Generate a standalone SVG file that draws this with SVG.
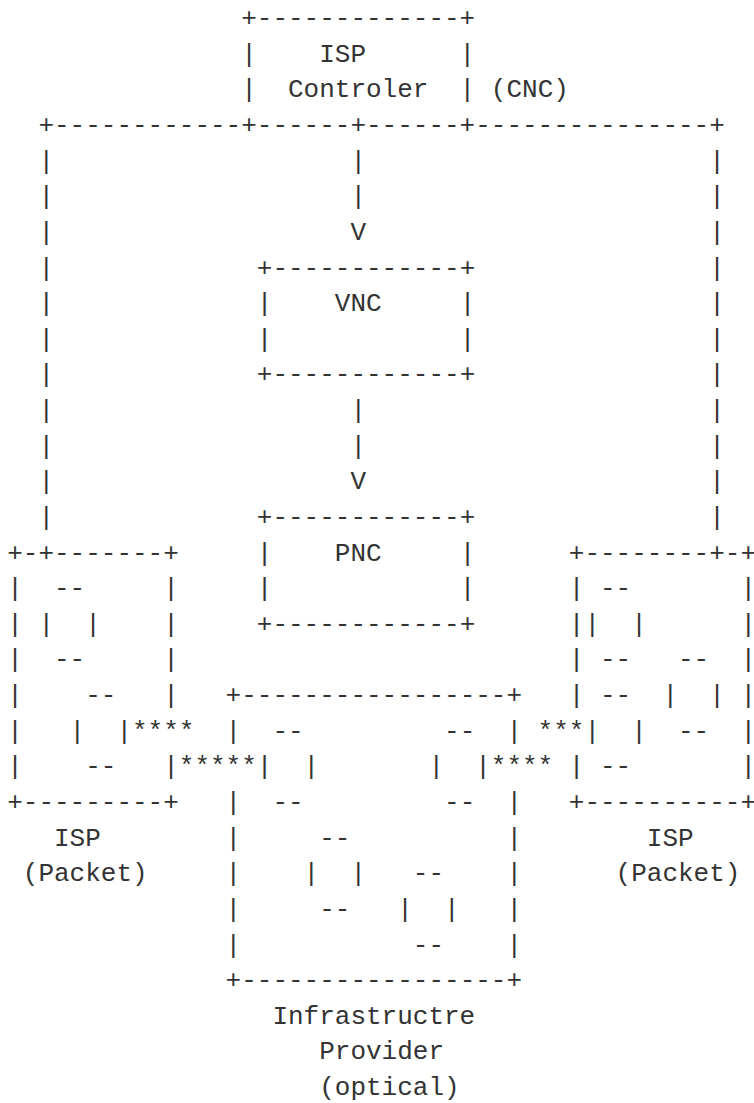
<svg xmlns="http://www.w3.org/2000/svg" width="754" height="1103" viewBox="0 0 754 1103" xml:space="preserve">
<style>
text{font-family:"Liberation Mono","DejaVu Sans Mono",monospace;font-size:26px;fill:#333;white-space:pre}
</style>
<rect width="754" height="1103" fill="#fff"/>
<g id="connectors">
<text x="38.4" y="133.0">+------------</text>
<text x="475.2" y="133.0">---------------+</text>
<text x="38.4" y="168.6">|</text><text x="38.4" y="204.3">|</text><text x="38.4" y="239.9">|</text><text x="38.4" y="275.5">|</text><text x="38.4" y="311.1">|</text><text x="38.4" y="346.8">|</text><text x="38.4" y="382.4">|</text><text x="38.4" y="418.0">|</text><text x="38.4" y="453.7">|</text><text x="38.4" y="489.3">|</text><text x="38.4" y="524.9">|</text>
<text x="709.2" y="168.6">|</text><text x="709.2" y="204.3">|</text><text x="709.2" y="239.9">|</text><text x="709.2" y="275.5">|</text><text x="709.2" y="311.1">|</text><text x="709.2" y="346.8">|</text><text x="709.2" y="382.4">|</text><text x="709.2" y="418.0">|</text><text x="709.2" y="453.7">|</text><text x="709.2" y="489.3">|</text><text x="709.2" y="524.9">|</text>
<text x="350.4" y="168.6">|</text><text x="350.4" y="204.3">|</text><text x="350.4" y="239.9">V</text>
<text x="350.4" y="418.0">|</text><text x="350.4" y="453.7">|</text><text x="350.4" y="489.3">V</text>
<text x="132" y="738.7">****</text>
<text x="178.8" y="774.3">*****</text>
<text x="537.6" y="738.7">***</text>
<text x="490.8" y="774.3">****</text>
</g>
<g id="cnc">
<text x="241.2" y="26.1">+-------------+</text>
<text x="241.2" y="61.7">|    ISP      |</text>
<text x="241.2" y="97.4">|  Controler  | (CNC)</text>
<text x="241.2" y="133.0">+------+------+</text>
</g>
<g id="vnc">
<text x="256.8" y="275.5">+------------+</text>
<text x="256.8" y="311.1">|    VNC     |</text>
<text x="256.8" y="346.8">|            |</text>
<text x="256.8" y="382.4">+------------+</text>
</g>
<g id="pnc">
<text x="256.8" y="524.9">+------------+</text>
<text x="256.8" y="560.5">|    PNC     |</text>
<text x="256.8" y="596.2">|            |</text>
<text x="256.8" y="631.8">+------------+</text>
</g>
<g id="isp-left">
<text x="7.2" y="560.5">+-+-------+</text>
<text x="7.2" y="596.2">|  --     |</text>
<text x="7.2" y="631.8">| |  |    |</text>
<text x="7.2" y="667.4">|  --     |</text>
<text x="7.2" y="703.1">|    --   |</text>
<text x="7.2" y="738.7">|   |  |</text>
<text x="7.2" y="774.3">|    --   |</text>
<text x="7.2" y="809.9">+---------+</text>
<text x="54" y="845.6">ISP</text>
<text x="22.8" y="881.2">(Packet)</text>
</g>
<g id="isp-right">
<text x="568.8" y="560.5">+--------+-+</text>
<text x="568.8" y="596.2">| --       |</text>
<text x="568.8" y="631.8">||  |      |</text>
<text x="568.8" y="667.4">| --   --  |</text>
<text x="568.8" y="703.1">| --  |  | |</text>
<text x="584.4" y="738.7">|  |  --  |</text>
<text x="568.8" y="774.3">| --       |</text>
<text x="568.8" y="809.9">+----------+</text>
<text x="646.8" y="845.6">ISP</text>
<text x="615.6" y="881.2">(Packet)</text>
</g>
<g id="infrastructure">
<text x="225.6" y="703.1">+-----------------+</text>
<text x="225.6" y="738.7">|  --         --  |</text>
<text x="256.8" y="774.3">|  |       |  |</text>
<text x="225.6" y="809.9">|  --         --  |</text>
<text x="225.6" y="845.6">|     --          |</text>
<text x="225.6" y="881.2">|    |  |   --    |</text>
<text x="225.6" y="916.8">|     --   |  |   |</text>
<text x="225.6" y="952.5">|           --    |</text>
<text x="225.6" y="988.1">+-----------------+</text>
<text x="272.4" y="1023.7">Infrastructre</text>
<text x="319.2" y="1059.3">Provider</text>
<text x="319.2" y="1095.0">(optical)</text>
</g>
</svg>
